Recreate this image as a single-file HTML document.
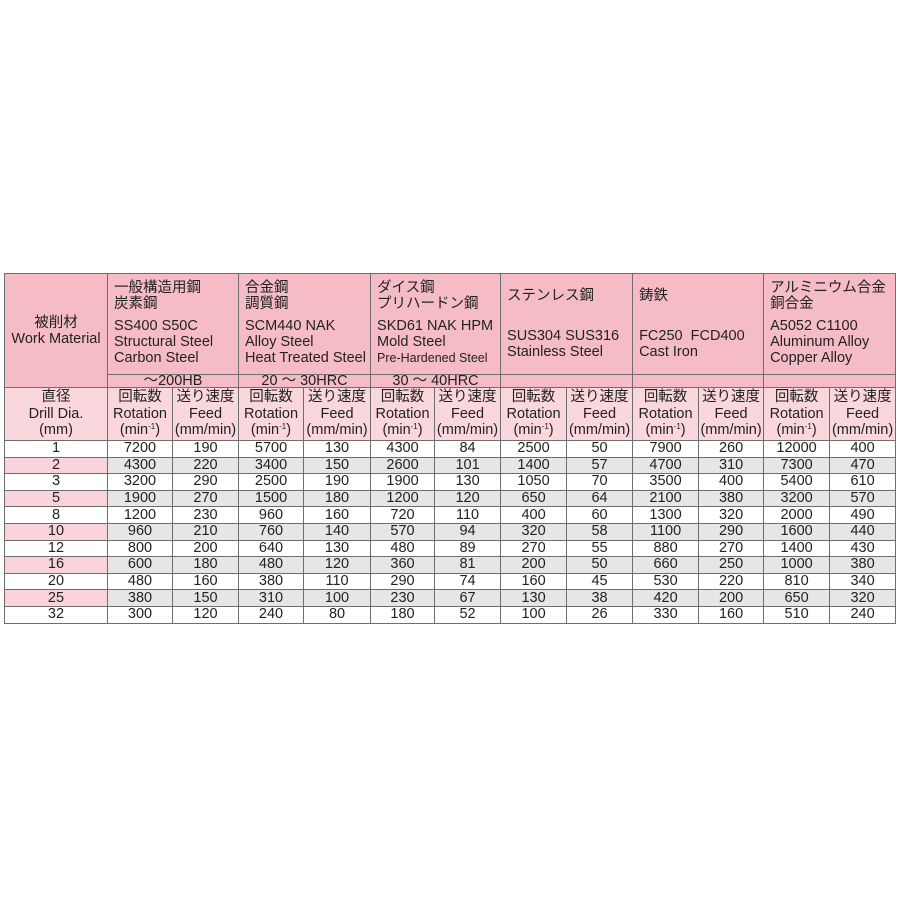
<!DOCTYPE html>
<html><head><meta charset="utf-8"><style>
body{margin:0;background:#fff;width:900px;height:900px;position:relative;font-family:"Liberation Sans","Noto Sans CJK JP",sans-serif;color:#222}
table{position:absolute;left:4px;top:273px;border-collapse:collapse;table-layout:fixed;width:891px}
td{border:1px solid #6e6e6e;padding:0;font-size:14.5px;line-height:15px;text-align:center;white-space:nowrap;overflow:hidden}
.h{background:#f6bcc6;text-align:left;vertical-align:top;padding:6px 0 0 6px;line-height:16px}
.h .s{margin-top:6px;display:block}
.hd{background:#f6bcc6;height:12px;line-height:12px}
.sh{background:#fad7dc;height:52px;line-height:16.5px}
.r td{height:15.6px;line-height:15px}
.r td.c{background:#fff}
.g td{background:#e6e6e6}
.g td.c{background:#f9d3d9}
.w td{background:#fff}
sup{font-size:8px;vertical-align:5px;line-height:0}
</style></head><body>
<table>
<colgroup><col style="width:103px"><col style="width:65px"><col style="width:66px"><col style="width:65px"><col style="width:67px"><col style="width:64px"><col style="width:66px"><col style="width:66px"><col style="width:66px"><col style="width:66px"><col style="width:65px"><col style="width:66px"><col style="width:66px"></colgroup>
<tr style="height:101px"><td rowspan="2" class="h" style="text-align:center;vertical-align:middle;padding:0">被削材<br>Work Material</td>
<td colspan="2" class="h">一般構造用鋼<br>炭素鋼<span class="s">SS400 S50C<br>Structural Steel<br>Carbon Steel</span></td>
<td colspan="2" class="h">合金鋼<br>調質鋼<span class="s">SCM440 NAK<br>Alloy Steel<br>Heat Treated Steel</span></td>
<td colspan="2" class="h">ダイス鋼<br>プリハードン鋼<span class="s">SKD61 NAK HPM<br>Mold Steel<br><span style="font-size:12.5px">Pre-Hardened Steel</span></span></td>
<td colspan="2" class="h" style="padding-top:14px">ステンレス鋼<span class="s" style="margin-top:24px">SUS304 SUS316<br>Stainless Steel</span></td>
<td colspan="2" class="h" style="padding-top:14px">鋳鉄<span class="s" style="margin-top:24px">FC250&nbsp; FCD400<br>Cast Iron</span></td>
<td colspan="2" class="h">アルミニウム合金<br>銅合金<span class="s">A5052 C1100<br>Aluminum Alloy<br>Copper Alloy</span></td></tr>
<tr><td colspan="2" class="hd">～200HB</td><td colspan="2" class="hd">20 ～ 30HRC</td><td colspan="2" class="hd">30 ～ 40HRC</td><td colspan="2" class="hd"></td><td colspan="2" class="hd"></td><td colspan="2" class="hd"></td></tr>
<tr><td class="sh">直径<br>Drill Dia.<br>(mm)</td>
<td class="sh">回転数<br>Rotation<br>(min<sup>-1</sup>)</td><td class="sh">送り速度<br>Feed<br>(mm/min)</td>
<td class="sh">回転数<br>Rotation<br>(min<sup>-1</sup>)</td><td class="sh">送り速度<br>Feed<br>(mm/min)</td>
<td class="sh">回転数<br>Rotation<br>(min<sup>-1</sup>)</td><td class="sh">送り速度<br>Feed<br>(mm/min)</td>
<td class="sh">回転数<br>Rotation<br>(min<sup>-1</sup>)</td><td class="sh">送り速度<br>Feed<br>(mm/min)</td>
<td class="sh">回転数<br>Rotation<br>(min<sup>-1</sup>)</td><td class="sh">送り速度<br>Feed<br>(mm/min)</td>
<td class="sh">回転数<br>Rotation<br>(min<sup>-1</sup>)</td><td class="sh">送り速度<br>Feed<br>(mm/min)</td></tr>
<tr class="r w"><td class="c">1</td><td>7200</td><td>190</td><td>5700</td><td>130</td><td>4300</td><td>84</td><td>2500</td><td>50</td><td>7900</td><td>260</td><td>12000</td><td>400</td></tr>
<tr class="r g"><td class="c">2</td><td>4300</td><td>220</td><td>3400</td><td>150</td><td>2600</td><td>101</td><td>1400</td><td>57</td><td>4700</td><td>310</td><td>7300</td><td>470</td></tr>
<tr class="r w"><td class="c">3</td><td>3200</td><td>290</td><td>2500</td><td>190</td><td>1900</td><td>130</td><td>1050</td><td>70</td><td>3500</td><td>400</td><td>5400</td><td>610</td></tr>
<tr class="r g"><td class="c">5</td><td>1900</td><td>270</td><td>1500</td><td>180</td><td>1200</td><td>120</td><td>650</td><td>64</td><td>2100</td><td>380</td><td>3200</td><td>570</td></tr>
<tr class="r w"><td class="c">8</td><td>1200</td><td>230</td><td>960</td><td>160</td><td>720</td><td>110</td><td>400</td><td>60</td><td>1300</td><td>320</td><td>2000</td><td>490</td></tr>
<tr class="r g"><td class="c">10</td><td>960</td><td>210</td><td>760</td><td>140</td><td>570</td><td>94</td><td>320</td><td>58</td><td>1100</td><td>290</td><td>1600</td><td>440</td></tr>
<tr class="r w"><td class="c">12</td><td>800</td><td>200</td><td>640</td><td>130</td><td>480</td><td>89</td><td>270</td><td>55</td><td>880</td><td>270</td><td>1400</td><td>430</td></tr>
<tr class="r g"><td class="c">16</td><td>600</td><td>180</td><td>480</td><td>120</td><td>360</td><td>81</td><td>200</td><td>50</td><td>660</td><td>250</td><td>1000</td><td>380</td></tr>
<tr class="r w"><td class="c">20</td><td>480</td><td>160</td><td>380</td><td>110</td><td>290</td><td>74</td><td>160</td><td>45</td><td>530</td><td>220</td><td>810</td><td>340</td></tr>
<tr class="r g"><td class="c">25</td><td>380</td><td>150</td><td>310</td><td>100</td><td>230</td><td>67</td><td>130</td><td>38</td><td>420</td><td>200</td><td>650</td><td>320</td></tr>
<tr class="r w"><td class="c">32</td><td>300</td><td>120</td><td>240</td><td>80</td><td>180</td><td>52</td><td>100</td><td>26</td><td>330</td><td>160</td><td>510</td><td>240</td></tr>
</table>
</body></html>
